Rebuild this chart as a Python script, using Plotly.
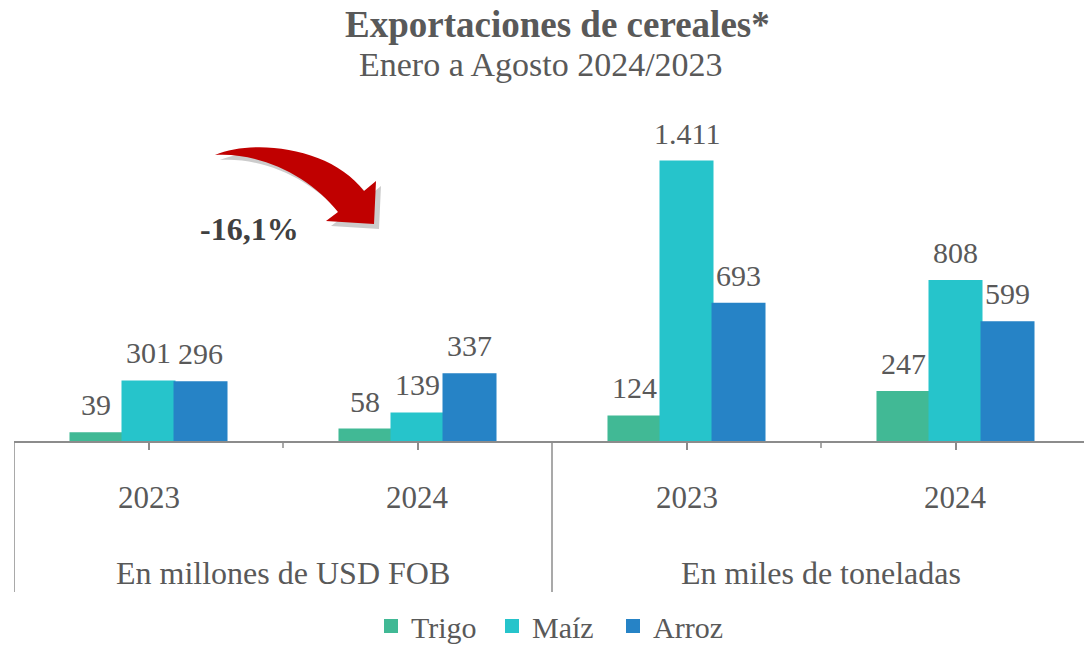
import plotly.graph_objects as go

# ---- data ----
groups = ["En millones de USD FOB", "En millones de USD FOB", "En miles de toneladas", "En miles de toneladas"]
years = ["2023", "2024", "2023", "2024"]
cat_keys = ["USD 2023", "USD 2024", "TON 2023", "TON 2024"]
trigo = [39, 58, 124, 247]
maiz = [301, 139, 1411, 808]
arroz = [296, 337, 693, 599]
series_names = ["Trigo", "Maíz", "Arroz"]
series_colors = ["#41B995", "#26C4CB", "#2683C6"]
change_label = "-16,1%"
title = "Exportaciones de cereales*"
subtitle = "Enero a Agosto 2024/2023"

W, H = 1084, 646
L, R, T, B = 14, 0, 80, 205
PW, PH = W - L - R, H - T - B
AXIS_Y = H - B
CAT_PX = 269.0
BARGAP = 0.42
BAR_PX = CAT_PX * (1 - BARGAP) / 3
Y_PX_PER_UNIT = 279.5 / 1411.0

FONT = "Liberation Serif"
TXT = "#595959"
AX = "#8C8C8C"


def px(x):
    return (x - L) / PW


def py(y):
    return (AXIS_Y - y) / PH


def fmt(v):
    return f"{v:,}".replace(",", ".")


fig = go.Figure()
annotations = []
for si, (name, vals, col) in enumerate(zip(series_names, [trigo, maiz, arroz], series_colors)):
    fig.add_trace(go.Bar(
        name=name, x=cat_keys, y=vals, marker=dict(color=col, line=dict(width=2, color=col)),
        hoverinfo="x+y+name",
    ))
    for k, v in zip(cat_keys, vals):
        annotations.append(dict(
            text=fmt(v), xref="x", yref="y", x=k, y=v, xanchor="center", yanchor="bottom",
            xshift=(si - 1) * BAR_PX, yshift=10, showarrow=False,
            font=dict(family=FONT, size=30, color=TXT)))

shapes = []
# boundary ticks
for b in [0.5, 2.5]:
    shapes.append(dict(type="line", xref="x", yref="paper", x0=b, x1=b, y0=0, y1=-7 / PH,
                       line=dict(color=AX, width=1.5)))
# dividers between groups
for b in [-0.5, 1.5]:
    shapes.append(dict(type="line", xref="x", yref="paper", x0=b, x1=b, y0=0, y1=py(592),
                       line=dict(color=AX, width=1.5)))


def path_from(pts_cmds, dx=0, dy=0):
    s = ""
    for cmd, pts in pts_cmds:
        s += cmd + " ".join(f"{px(x + dx):.5f},{py(y + dy):.5f}" for x, y in pts) + " "
    return s + "Z"


arrow = [
    ("M", [(215, 155)]),
    ("C", [(255, 138), (332, 148), (364, 191)]),
    ("L", [(376, 181)]),
    ("L", [(374, 224)]),
    ("L", [(326, 221)]),
    ("L", [(338, 212)]),
    ("C", [(310, 176), (260, 152), (215, 155)]),
]
shapes.append(dict(type="path", xref="paper", yref="paper", path=path_from(arrow, 5, 5),
                   fillcolor="rgba(0,0,0,0.2)", line=dict(width=0)))
shapes.append(dict(type="path", xref="paper", yref="paper", path=path_from(arrow),
                   fillcolor="#C00000", line=dict(width=0)))

annotations += [
    dict(text=f"<b>{title}</b>", xref="paper", yref="paper", x=px(557), y=py(25),
         showarrow=False, font=dict(family=FONT, size=37, color=TXT), xanchor="center", yanchor="middle"),
    dict(text=subtitle, xref="paper", yref="paper", x=px(541), y=py(65),
         showarrow=False, font=dict(family=FONT, size=34, color=TXT), xanchor="center", yanchor="middle"),
    dict(text=f"<b>{change_label}</b>", xref="paper", yref="paper", x=px(249), y=py(229),
         showarrow=False, font=dict(family=FONT, size=32, color="#404040"), xanchor="center", yanchor="middle"),
]
for k, yr in zip(cat_keys, years):
    annotations.append(dict(text=yr, xref="x", yref="paper", x=k, y=py(497), showarrow=False,
                            font=dict(family=FONT, size=31, color=TXT), yanchor="middle"))
seen = []
for g in groups:
    if g in seen:
        continue
    seen.append(g)
    idx = [j for j, gg in enumerate(groups) if gg == g]
    annotations.append(dict(text=g, xref="x", yref="paper", x=sum(idx) / len(idx), y=py(573),
                            showarrow=False, font=dict(family=FONT, size=32, color=TXT), yanchor="middle"))

fig.update_layout(
    width=W, height=H, margin=dict(l=L, r=R, t=T, b=B, autoexpand=False),
    paper_bgcolor="white", plot_bgcolor="white",
    barmode="group", bargap=BARGAP, bargroupgap=0,
    font=dict(family=FONT, color=TXT),
    showlegend=True,
    legend=dict(orientation="h", x=px(371), xanchor="left", y=py(626), yanchor="middle",
                font=dict(family=FONT, size=30, color=TXT), itemwidth=30, entrywidth=76,
                traceorder="normal", borderwidth=0, bgcolor="rgba(0,0,0,0)"),
    xaxis=dict(type="category", categoryorder="array", categoryarray=cat_keys,
               range=[-0.5, -0.5 + PW / CAT_PX], showticklabels=False,
               ticks="outside", ticklen=7, tickcolor=AX, tickwidth=1.5,
               showline=True, linecolor=AX, linewidth=2, showgrid=False, zeroline=False, fixedrange=True),
    yaxis=dict(range=[0, PH / Y_PX_PER_UNIT], visible=False, showgrid=False, zeroline=False, fixedrange=True),
    shapes=shapes, annotations=annotations,
)

fig.write_html("out.html", config={"displayModeBar": False},
               post_script="document.body.style.margin='0';")
